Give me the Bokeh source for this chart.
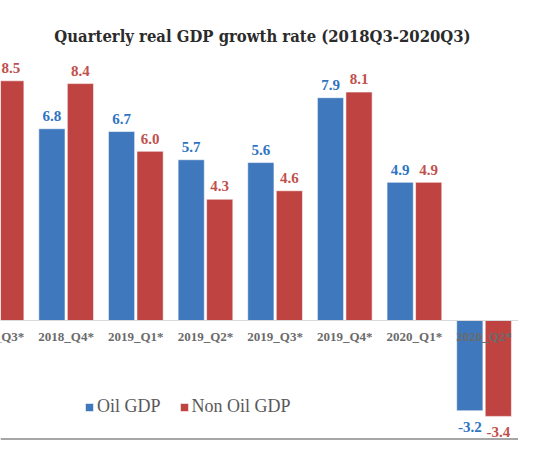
from bokeh.plotting import figure
from bokeh.models import Range1d, ColumnDataSource, Span, Label, LabelSet, Legend, LegendItem
from bokeh.transform import dodge
from bokeh.core.properties import value
from bokeh.embed import file_html
from bokeh.resources import INLINE

categories = ["2018_Q3*", "2018_Q4*", "2019_Q1*", "2019_Q2*", "2019_Q3*", "2019_Q4*", "2020_Q1*", "2020_Q2*"]
oil_gdp = [float("nan"), 6.8, 6.7, 5.7, 5.6, 7.9, 4.9, -3.2]
non_oil_gdp = [8.5, 8.4, 6.0, 4.3, 4.6, 8.1, 4.9, -3.4]
title_text = "Quarterly real GDP growth rate (2018Q3-2020Q3)"
series_names = ["Oil GDP", "Non Oil GDP"]

W, H = 518, 440
SX = W / 534.0
PX_X = 71.8 * SX   # pixels per category
PX_Y = 28.2        # pixels per percentage point
x_start = 1 - 67.7 * SX / PX_X
y_end = 320 / PX_Y
x_range = Range1d(x_start, x_start + W / PX_X)
y_range = Range1d(y_end - H / PX_Y, y_end)

idx = list(range(len(categories)))


def fmt(v):
    return "" if v != v else f"{v:.1f}"


src = ColumnDataSource(dict(
    x=idx,
    cat=categories,
    oil=oil_gdp,
    non=non_oil_gdp,
    oil_txt=[fmt(v) for v in oil_gdp],
    non_txt=[fmt(v) for v in non_oil_gdp],
    oil_off=[12.8 if v >= 0 else -16 for v in oil_gdp],
    non_off=[12.8 if v >= 0 else -16 for v in non_oil_gdp],
    zero=[0] * len(categories),
))

p = figure(width=W, height=H, x_range=x_range, y_range=y_range,
           output_backend="svg", toolbar_location=None, min_border=0)
p.xaxis.visible = False
p.yaxis.visible = False
p.grid.visible = False
p.outline_line_color = None
p.background_fill_color = "white"
p.border_fill_color = "white"

BLUE, RED = "#3F78BC", "#BE4341"
BLUE_T, RED_T = "#2E74C2", "#C0504D"
BW = 27 / 71.8
OFF = 14.7 / 71.8

p.add_layout(Span(location=0, dimension="width", line_color="#d9d9d9", line_width=1))

r_oil = p.vbar(x=dodge("x", -OFF, range=x_range), top="oil", bottom=0, width=BW, source=src,
               fill_color=BLUE, line_color="white", line_alpha=0.55, line_width=1)
r_non = p.vbar(x=dodge("x", OFF, range=x_range), top="non", bottom=0, width=BW, source=src,
               fill_color=RED, line_color="white", line_alpha=0.55, line_width=1)

p.add_layout(LabelSet(x=dodge("x", -OFF, range=x_range), y="oil", text="oil_txt", y_offset="oil_off",
                      source=src, text_align="center", text_baseline="middle",
                      text_font=value("Liberation Serif"), text_font_style="bold",
                      text_font_size="15px", text_color=BLUE_T))
p.add_layout(LabelSet(x=dodge("x", OFF, range=x_range), y="non", text="non_txt", y_offset="non_off",
                      source=src, text_align="center", text_baseline="middle",
                      text_font=value("Liberation Serif"), text_font_style="bold",
                      text_font_size="15px", text_color=RED_T))

p.add_layout(LabelSet(x="x", y="zero", text="cat", y_offset=-8.5, source=src,
                      text_align="center", text_baseline="top",
                      text_font=value("Liberation Serif"), text_font_style="bold",
                      text_font_size="13px", text_color="#6b6b6b"))

p.add_layout(Label(x=x_start + 262 / PX_X, y=y_end - 36 / PX_Y, text=title_text,
                   text_align="center", text_baseline="middle",
                   text_font="DejaVu Serif Condensed, DejaVu Serif", text_font_style="bold",
                   text_font_size="16.5px", text_color="#2b2b2b"))

p.add_layout(Span(location=y_end - 438.5 / PX_Y, dimension="width", line_color="#a6a6a6", line_width=2))

legend = Legend(items=[LegendItem(label=series_names[0], renderers=[r_oil]),
                       LegendItem(label=series_names[1], renderers=[r_non])],
                location=(84, 23), orientation="horizontal",
                glyph_width=10, glyph_height=10, label_standoff=3, spacing=18,
                padding=0, margin=0, border_line_color=None, background_fill_alpha=0,
                label_text_font="Liberation Serif", label_text_font_size="18px",
                label_text_color="#595959")
p.add_layout(legend)

open("out.html", "w").write(file_html(p, INLINE))
